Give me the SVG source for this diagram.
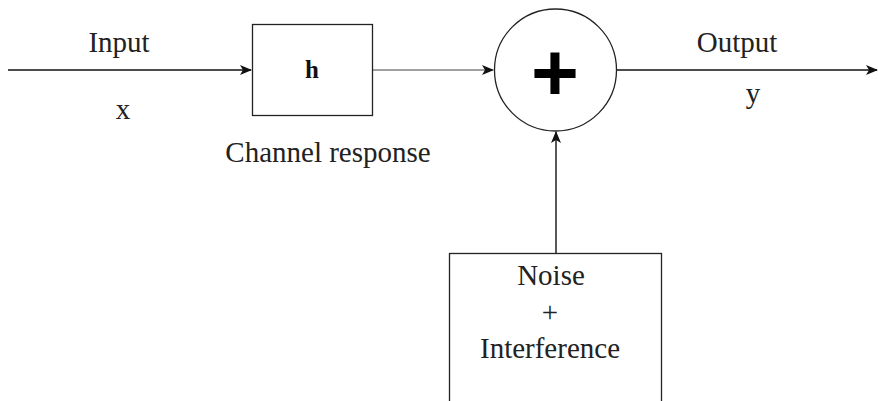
<svg xmlns="http://www.w3.org/2000/svg" width="878" height="401" viewBox="0 0 878 401">
  <style>
    .lbl { font-family: 'Liberation Serif', Tinos, 'Times New Roman', Times, 'Noto Serif', 'DejaVu Serif', FreeSerif, serif; font-size: 29px; fill: #222; text-anchor: middle; }
    .box { fill: #fff; stroke: #222; stroke-width: 1.3; }
    .wire { fill: none; stroke: #111; stroke-width: 1.4; }
    .grey { stroke: #808080; }
  </style>
  <defs>
    <marker id="arrow" viewBox="0 0 12 10" refX="11" refY="5" markerWidth="12" markerHeight="10" markerUnits="userSpaceOnUse" orient="auto">
      <path d="M0,0 L12,5 L0,10 L3,5 Z" fill="#111"/>
    </marker>
  </defs>

  <!-- connectors -->
  <g id="connectors">
    <line class="wire" x1="8" y1="70" x2="251" y2="70" marker-end="url(#arrow)"/>
    <line class="wire grey" x1="373" y1="70" x2="493" y2="70" marker-end="url(#arrow)"/>
    <line class="wire" x1="617" y1="70" x2="877" y2="70" marker-end="url(#arrow)"/>
    <line class="wire" x1="556" y1="253" x2="556" y2="132" marker-end="url(#arrow)"/>
  </g>

  <!-- edge labels -->
  <g id="labels">
    <text class="lbl" x="119" y="52">Input</text>
    <text class="lbl" x="123" y="119">x</text>
    <text class="lbl" x="737" y="52">Output</text>
    <text class="lbl" x="753" y="103">y</text>
  </g>

  <!-- channel block -->
  <g id="channel">
    <rect class="box" x="252.5" y="24.5" width="120" height="91"/>
    <text class="lbl" x="312" y="78" style="font-size:25px;font-weight:bold;fill:#111">h</text>
    <text class="lbl" x="328" y="162">Channel response</text>
  </g>

  <!-- summing junction -->
  <g id="sum">
    <circle cx="555.5" cy="70" r="61" fill="#fff" stroke="#222" stroke-width="1.3"/>
    <text x="555" y="100" font-family="'Liberation Sans', Arial, sans-serif" font-size="82" font-weight="bold" text-anchor="middle" fill="#000">+</text>
  </g>

  <!-- noise source -->
  <g id="noise">
    <rect class="box" x="449.5" y="253.5" width="212" height="160"/>
    <text class="lbl" x="551" y="285">Noise</text>
    <text class="lbl" x="550" y="322">+</text>
    <text class="lbl" x="550" y="358">Interference</text>
  </g>
</svg>
